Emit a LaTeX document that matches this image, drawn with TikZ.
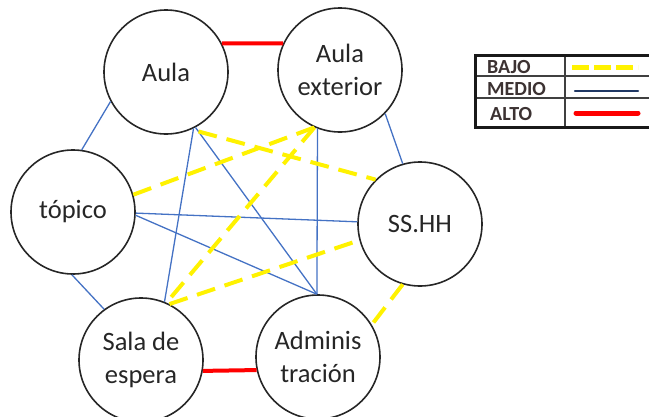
\documentclass[tikz,border=0pt]{standalone}
\usepackage{fontspec}
\setmainfont{Carlito}
\usetikzlibrary{calc}
\definecolor{edgeblue}{HTML}{4472C4}
\definecolor{edgeyellow}{HTML}{FFF200}
\definecolor{edgered}{HTML}{FF0000}
\definecolor{legblue}{HTML}{203864}
\definecolor{legtextcol}{RGB}{60,50,50}
\definecolor{circtext}{HTML}{262626}
\begin{document}
\begin{tikzpicture}[x=1pt,y=-1pt,
  place/.style={circle,draw=black!85,line width=1.6pt,minimum size=124pt,inner sep=0pt,
    align=center,font=\fontsize{26.5}{33}\selectfont,text=circtext},
  medio/.style={draw=edgeblue,line width=1.3pt},
  bajo/.style={draw=edgeyellow,line width=4pt,dash pattern=on 19pt off 10pt},
  alto/.style={draw=edgered,line width=4pt},
  legtext/.style={font=\fontsize{20}{20}\selectfont\bfseries,text=legtextcol,anchor=west,inner sep=0pt},
  legframe/.style={draw=black!90,line width=3pt},
  legrule/.style={draw=black!75,line width=1.3pt},
  legbajo/.style={draw=edgeyellow,line width=5pt,dash pattern=on 17pt off 5pt},
  legmedio/.style={draw=legblue,line width=2.5pt,line cap=round},
  legalto/.style={draw=edgered,line width=5pt,line cap=round},
]
\clip (0,0) rectangle (649,416);

% places
\node[place] (aula)   at (166,72)  {Aula};
\node[place] (ext)    at (340,70)  {Aula\\exterior};
\node[place] (topico) at (73,212)  {tópico};
\node[place] (sshh)   at (420,224) {SS.HH};
\node[place] (sala)   at (141,360) {Sala de\\espera};
\node[place] (admin)  at (318,357) {Adminis\\tración};

% ALTO
\draw[alto] (aula.27) -- (ext.155);
\draw[alto] (sala.-10) -- (admin.192);

% MEDIO
\draw[medio] (aula.208) -- (topico.82);
\draw[medio] (ext.-44) -- (sshh.106);
\draw[medio] (topico.269) -- (sala.126);
\draw[medio] (aula.-64) -- (sala.68);
\draw[medio] (aula.-62) -- (admin.91);
\draw[medio] (ext.-111) -- (admin.91);
\draw[medio] (topico.-1) -- (sshh.178);
\draw[medio] (topico.-3) -- (admin.91);

% BAJO
\coordinate (aulaY) at ($(aula.-62)+(3,4)$);
\draw[bajo] (aulaY) -- (sshh.135);
\draw[bajo] (topico.16) -- (ext.246);
\draw[bajo] (ext.246) -- (sala.66);
\draw[bajo] (sala.63) -- (sshh.195);
\draw[bajo] (sshh.254) -- (admin.31);

% legend
\draw[legrule] (565,55) -- (565,127);
\draw[legrule] (475,76) -- (660,76);
\draw[legrule] (475,98) -- (660,98);
\draw[legframe] (475,55) rectangle (665,127);
\node[legtext] (lbajo)  at (487,67)  {BAJO};
\node[legtext] (lmedio) at (487,89)  {MEDIO};
\node[legtext] (lalto)  at (490,114) {ALTO};
\coordinate (b1) at (572,67);  \coordinate (b2) at (638,67);
\coordinate (m1) at (575,91);  \coordinate (m2) at (638,91);
\coordinate (a1) at (576,113); \coordinate (a2) at (638,113);
\draw[legbajo] (b1) -- (b2);
\draw[legmedio] (m1) -- (m2);
\draw[legalto] (a1) -- (a2);
\end{tikzpicture}
\end{document}
